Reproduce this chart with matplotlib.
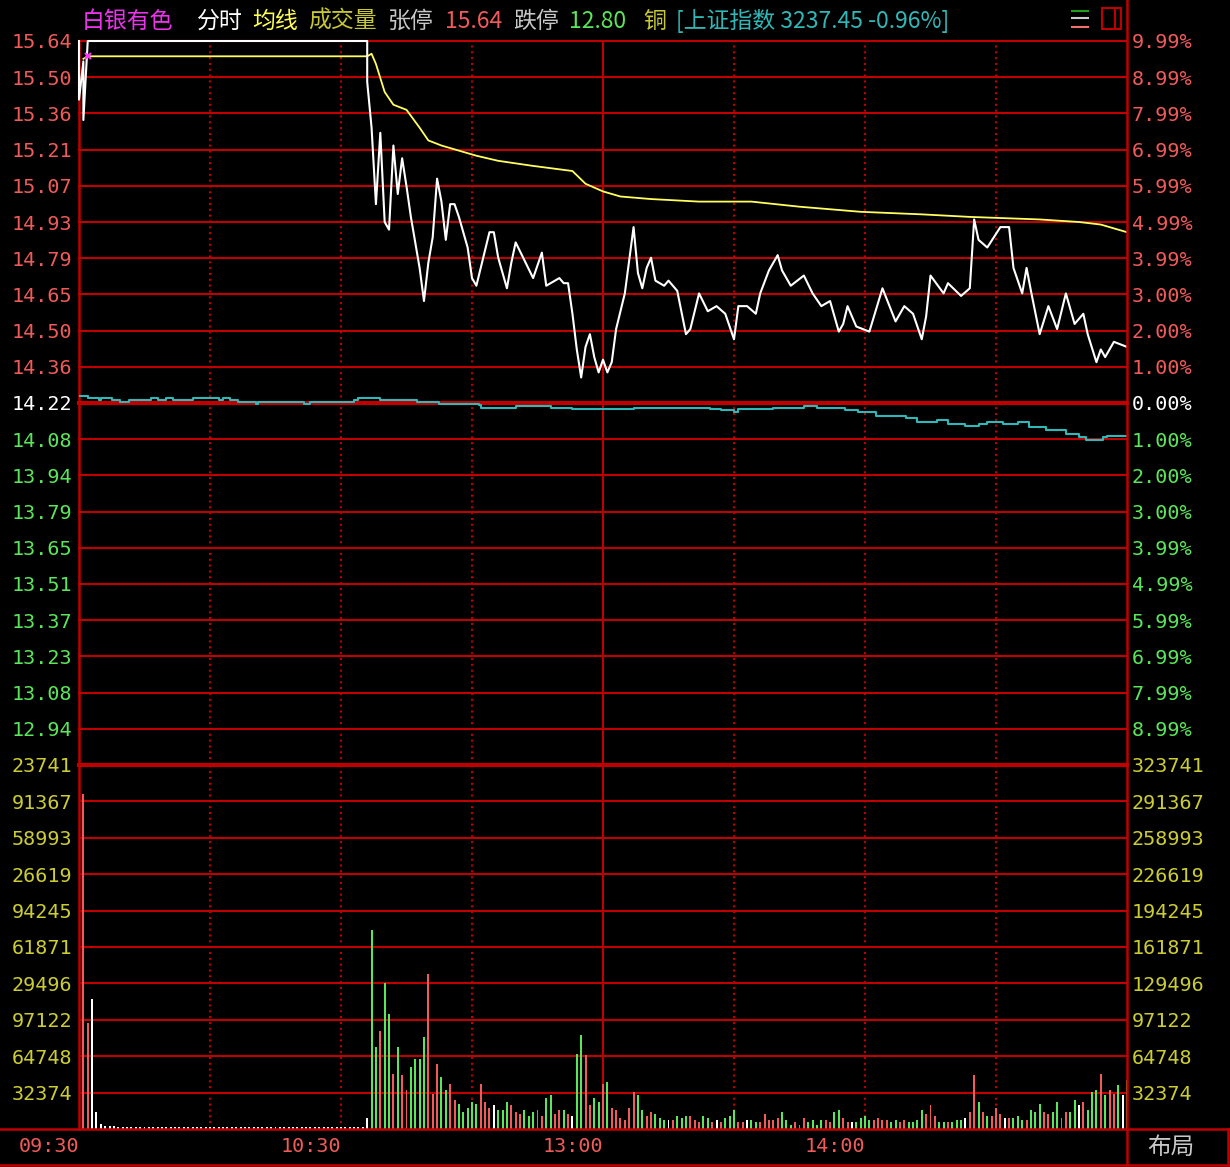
import numpy as np
import matplotlib
matplotlib.use('Agg')
import matplotlib.pyplot as plt
from matplotlib.lines import Line2D
from matplotlib.patches import Rectangle

W, H = 1230, 1167

# ---------------- data ----------------
pre_close = 14.22
limit_up = 15.64
limit_down = 12.80

price_left_labels = ['15.64', '15.50', '15.36', '15.21', '15.07', '14.93', '14.79',
                     '14.65', '14.50', '14.36', '14.22', '14.08', '13.94', '13.79',
                     '13.65', '13.51', '13.37', '13.23', '13.08', '12.94']
pct_labels = ['9.99%', '8.99%', '7.99%', '6.99%', '5.99%', '4.99%', '3.99%', '3.00%',
              '2.00%', '1.00%', '0.00%', '1.00%', '2.00%', '3.00%', '3.99%', '4.99%',
              '5.99%', '6.99%', '7.99%', '8.99%']
vol_max = 323741
vol_left_labels = ['23741', '91367', '58993', '26619', '94245', '61871', '29496',
                   '97122', '64748', '32374']
vol_right_labels = ['323741', '291367', '258993', '226619', '194245', '161871',
                    '129496', '97122', '64748', '32374']
time_ticks = [0, 60, 120, 180]
time_labels = ['09:30', '10:30', '13:00', '14:00']

# price line (minute from 09:30, price)
price_t = [0, 0, 1, 1, 2, 66, 66, 67, 68, 69, 70, 71, 72, 73, 74, 75, 76, 77, 78, 79, 80,
           81, 82, 83, 84, 85, 86, 87, 89, 90, 91, 92, 94, 95, 96, 98, 99, 100, 102, 104,
           106, 107, 110, 111, 112, 113, 114, 115, 116, 117, 118, 119, 120, 121, 122, 123,
           125, 126, 127, 128, 129, 130, 131, 132, 134, 135, 137, 139, 140, 142, 144, 146,
           148, 150, 151, 153, 155, 156, 158, 160, 161, 163, 166, 168, 170, 172, 174, 175,
           176, 178, 181, 184, 187, 189, 191, 193, 194, 195, 198, 199, 202, 204, 205, 206,
           208, 211, 213, 214, 216, 217, 218, 220, 222, 224, 226, 228, 230, 231, 233, 234,
           235, 237, 240]
price_v = [15.64, 15.41, 15.56, 15.33, 15.64, 15.64, 15.48, 15.30, 15.00, 15.28, 14.93,
           14.90, 15.23, 15.04, 15.18, 15.07, 14.95, 14.85, 14.75, 14.62, 14.77, 14.87,
           15.10, 15.01, 14.86, 15.00, 15.00, 14.95, 14.83, 14.71, 14.68, 14.75, 14.89,
           14.89, 14.79, 14.67, 14.77, 14.85, 14.78, 14.71, 14.81, 14.68, 14.71, 14.69,
           14.69, 14.57, 14.43, 14.32, 14.44, 14.49, 14.40, 14.34, 14.39, 14.34, 14.38,
           14.51, 14.65, 14.78, 14.91, 14.73, 14.67, 14.75, 14.79, 14.70, 14.68, 14.70,
           14.66, 14.49, 14.51, 14.65, 14.58, 14.60, 14.57, 14.47, 14.60, 14.60, 14.57,
           14.65, 14.74, 14.80, 14.74, 14.68, 14.72, 14.65, 14.60, 14.62, 14.50, 14.53,
           14.60, 14.52, 14.50, 14.67, 14.54, 14.60, 14.57, 14.47, 14.56, 14.72, 14.65,
           14.69, 14.64, 14.67, 14.94, 14.86, 14.83, 14.91, 14.91, 14.75, 14.65, 14.75,
           14.66, 14.49, 14.60, 14.51, 14.65, 14.53, 14.57, 14.49, 14.38, 14.43, 14.40,
           14.46, 14.44]

# average price line
avg_t = [1, 2, 66, 67, 68, 70, 72, 75, 78, 80, 83, 87, 91, 96, 104, 113, 116, 120, 124,
         131, 142, 154, 165, 179, 193, 204, 220, 229, 234, 240]
avg_v = [15.57, 15.58, 15.58, 15.59, 15.55, 15.44, 15.39, 15.37, 15.30, 15.25, 15.23,
         15.21, 15.19, 15.17, 15.15, 15.13, 15.08, 15.05, 15.03, 15.02, 15.01, 15.01,
         14.99, 14.97, 14.96, 14.95, 14.94, 14.93, 14.92, 14.89]

# Shanghai index change, % (step line)
idx_t = [0, 2, 4.5, 5, 7.5, 9.5, 11.5, 16.5, 18, 20, 21.5, 26, 32, 33, 34.5, 36.5, 40.5,
         41, 51.5, 53, 63, 64, 69, 77.5, 82.5, 91.5, 92, 100, 108, 113, 127, 144.5, 147,
         150, 151, 159, 166, 169, 175.5, 178.5, 182.5, 189.5, 192, 196.5, 199, 203, 206,
         208, 211.5, 215, 217.5, 221.5, 226, 229, 230.5, 234.5, 235.5, 240]
idx_pct = [0.19, 0.14, 0.09, 0.14, 0.09, 0.04, 0.09, 0.14, 0.09, 0.14, 0.09, 0.14, 0.09,
           0.14, 0.09, 0.04, -0.02, 0.04, -0.02, 0.04, 0.09, 0.14, 0.09, 0.04, -0.02,
           -0.06, -0.14, -0.08, -0.14, -0.17, -0.14, -0.17, -0.19, -0.25, -0.17, -0.14,
           -0.07, -0.14, -0.19, -0.24, -0.35, -0.41, -0.52, -0.46, -0.58, -0.63, -0.57,
           -0.52, -0.57, -0.52, -0.67, -0.74, -0.86, -0.95, -1.01, -0.95, -0.90, -0.90]

# volume per minute 1..240 (thousand shares) and bar colour (r up, g down, w flat)
vol_k = [298, 94, 116, 15, 4.5, 3, 3, 3, 2, 2,
         2, 2, 2, 2, 2, 2, 2, 2, 2, 2,
         2, 2, 2, 2, 2, 2, 2, 2, 2, 2,
         2, 2, 2, 2, 2, 2, 2, 2, 2, 2,
         2, 2, 2, 2, 2, 2, 2, 2, 2, 2,
         2, 2, 2, 2, 2, 2, 2, 2, 2, 2,
         2, 2, 2, 2, 2, 10, 177, 73, 87, 130,
         102, 49, 73, 48, 35, 55, 62, 62, 82, 138,
         31, 58, 46, 35, 40, 26, 22, 15, 19, 24,
         22, 40, 24, 19, 21, 17, 17, 24, 21, 15,
         13, 17, 12, 15, 17, 12, 28, 30, 13, 17,
         17, 13, 12, 67, 84, 66, 21, 28, 24, 40,
         42, 19, 17, 10, 8, 19, 33, 30, 17, 12,
         15, 13, 10, 8, 8, 8, 12, 10, 12, 12,
         8, 6, 12, 10, 6, 8, 6, 10, 12, 17,
         6, 6, 8, 8, 6, 6, 13, 8, 8, 10,
         15, 8, 4, 6, 4, 10, 6, 8, 4, 8,
         8, 6, 15, 17, 10, 6, 6, 6, 10, 12,
         8, 8, 10, 8, 8, 6, 8, 6, 8, 6,
         6, 8, 17, 13, 21, 12, 6, 6, 6, 6,
         8, 8, 10, 15, 48, 24, 15, 12, 12, 19,
         13, 10, 10, 10, 12, 8, 8, 17, 15, 22,
         15, 13, 15, 24, 10, 15, 15, 26, 21, 24,
         17, 33, 35, 49, 30, 35, 31, 39, 30, 44]
vol_dir = ('rrwwwwwwww' 'wwwwwwwwww' 'wwwwwwwwww' 'wwwwwwwwww' 'wwwwwwwwww' 'wwwwwwwwww'
           'wwwwwwggrg' 'grgrrggggr' 'rrggrrgggg' 'grrrwgggrr' 'rgggrrggrr' 'grwggrrggr'
           'grrrrrrggr' 'rgggwrgggr' 'rrggrwrggg' 'rrwggrrrrr' 'gggrrrgggg' 'rrggrrwggg'
           'grrrrggrrg' 'gggrrrggrg' 'ggwrrgrgrr' 'rwrgggrggg' 'rrggrrggwr' 'gggrgrrgwg')

# ---------------- style ----------------
BG = 'black'
GRID = '#C00000'
UP = '#F05A5A'
DOWN = '#5AE65A'
VOLTXT = '#CCCC33'
MONO = 'DejaVu Sans Mono'
CJK = ['Noto Sans CJK SC', 'DejaVu Sans']
bar_cols = {'r': UP, 'g': DOWN, 'w': 'white'}

fig = plt.figure(figsize=(W / 100, H / 100), dpi=100, facecolor=BG)

def fx(x):
    return x / W

def fy(y):
    return 1 - y / H

x0, x1 = 79, 1127
ax = fig.add_axes([fx(x0), fy(765), fx(x1) - fx(x0), fy(41) - fy(765)], facecolor=BG)
axv = fig.add_axes([fx(x0), fy(1129), fx(x1) - fx(x0), fy(765) - fy(1129)], facecolor=BG)

levels = np.linspace(limit_up, limit_down, 21)
vol_levels = np.linspace(vol_max, 0, 11)

for a in (ax, axv):
    a.set_xlim(0, 240)
    for s in a.spines.values():
        s.set_visible(False)
    for m in (30, 60, 90, 150, 180, 210):
        a.axvline(m, color=GRID, lw=1.5, ls=(0, (1, 1.8)), zorder=1)
    a.axvline(120, color=GRID, lw=1.5, zorder=1)
    a.axvline(0, color=GRID, lw=1.8, zorder=1, clip_on=False)

# ---- price panel ----
ax.set_ylim(limit_down, limit_up)
for i, lv in enumerate(levels[:20]):
    ax.axhline(lv, color=GRID, lw=3 if i == 10 else 1.5, zorder=1, clip_on=False)

ax.plot(idx_t, pre_close * (1 + np.array(idx_pct) / 100), color='#30B8B8', lw=1.5,
        drawstyle='steps-post', zorder=3)
ax.plot(avg_t, avg_v, color='#FFFF60', lw=1.3, zorder=4)
ax.plot(price_t, price_v, color='white', lw=1.5, zorder=5, clip_on=False)
ax.plot([2], [avg_v[1]], marker='x', ms=5, mew=1.5, color='#FF33FF', zorder=6)

ax.set_xticks([])
ax.set_yticks(levels[:20])
ax.set_yticklabels(price_left_labels, family=MONO, fontsize=14.5)
ax.tick_params(axis='y', length=0, pad=5)
for i, t in enumerate(ax.get_yticklabels()):
    t.set_color(UP if i < 10 else ('white' if i == 10 else DOWN))

axr = ax.twinx()
axr.set_ylim(limit_down, limit_up)
for s in axr.spines.values():
    s.set_visible(False)
axr.set_yticks(levels[:20])
axr.set_yticklabels(pct_labels, family=MONO, fontsize=14.5)
axr.tick_params(axis='y', length=0, pad=3.5)
for i, t in enumerate(axr.get_yticklabels()):
    t.set_color(UP if i < 10 else ('white' if i == 10 else DOWN))

# ---- volume panel ----
axv.set_ylim(0, vol_max)
axv.axhline(vol_max, color=GRID, lw=3, zorder=1, clip_on=False)
for lv in vol_levels[1:10]:
    axv.axhline(lv, color=GRID, lw=1.5, zorder=1)
minutes = np.arange(1, 241)
axv.bar(minutes, np.array(vol_k) * 1000, width=0.45, linewidth=0,
        color=[bar_cols[c] for c in vol_dir], zorder=3)

axv.set_yticks(vol_levels[:10])
axv.set_yticklabels(vol_left_labels, family=MONO, fontsize=14.5, color=VOLTXT)
axv.tick_params(axis='y', length=0, pad=5)
axv.set_xticks(time_ticks)
axv.set_xticklabels(time_labels, family=MONO, fontsize=14.5, color=UP, ha='right')
axv.tick_params(axis='x', length=0, pad=6)

axvr = axv.twinx()
axvr.set_ylim(0, vol_max)
for s in axvr.spines.values():
    s.set_visible(False)
axvr.set_yticks(vol_levels[:10])
axvr.set_yticklabels(vol_right_labels, family=MONO, fontsize=14.5, color=VOLTXT)
axvr.tick_params(axis='y', length=0, pad=3.5)

# ---- frame lines ----
def hline(y, xa, xb, lw=1.5):
    fig.add_artist(Line2D([fx(xa), fx(xb)], [fy(y), fy(y)], color=GRID, lw=lw))

def vline(x, ya, yb, lw=1.5):
    fig.add_artist(Line2D([fx(x), fx(x)], [fy(ya), fy(yb)], color=GRID, lw=lw))

hline(1129, 0, W, 1.8)
hline(1165, 0, W, 1.8)
vline(x1, 0, 1165, 1.8)
vline(1228, 1129, 1165, 1.8)

# ---- header ----
header = [('白银有色', 82, '#EE33EE'), ('分时', 197, 'white'), ('均线', 252, '#FFFF55'),
          ('成交量', 308, '#C8C832'), ('张停', 388, '#C8C8C8'), ('15.64', 445, UP),
          ('跌停', 513, '#C8C8C8'), ('12.80', 569, DOWN), ('铜', 643, '#C8C832'),
          ('[上证指数 3237.45 -0.96%]', 676, '#30B8B8')]
for txt, x, c in header:
    fig.text(fx(x), fy(21), txt, color=c, fontsize=16.5, family=CJK, ha='left', va='center')

for y, c in ((11, '#1E9E1E'), (18, '#CCCCCC'), (27, '#F07070')):
    fig.add_artist(Line2D([fx(1072), fx(1088)], [fy(y), fy(y)], color=c, lw=1.5))
fig.add_artist(Rectangle((fx(1102), fy(29)), fx(19), fy(8) - fy(29), fill=False,
                         edgecolor=GRID, lw=1.5, transform=fig.transFigure))
vline(1115, 8, 29, 1.5)

fig.text(fx(1171), fy(1147), '布局', color='#C8C8C8', fontsize=17, family=CJK,
         ha='center', va='center')

fig.savefig('out.png', dpi=100, facecolor=BG)
